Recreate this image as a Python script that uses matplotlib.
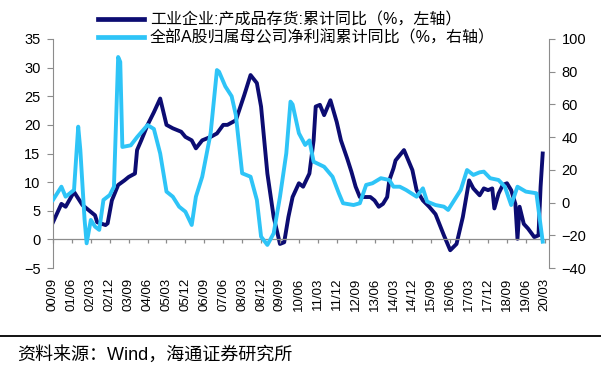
import matplotlib.pyplot as plt
from matplotlib.lines import Line2D

plt.rcParams['font.family'] = ['Liberation Sans', 'Noto Sans CJK SC']

# industrial enterprises: finished goods inventory, YTD yoy (%), left axis
inv_dates = ['2000-09', '2001-01', '2001-03', '2001-07', '2001-11', '2002-02', '2002-05', '2002-06',
             '2002-10', '2002-11', '2003-01', '2003-04', '2003-07', '2003-09', '2003-12', '2004-01',
             '2004-03', '2004-06', '2004-09', '2004-12', '2005-03', '2005-06', '2005-10', '2005-12',
             '2006-03', '2006-05', '2006-08', '2006-12', '2007-03', '2007-06', '2007-08', '2007-12',
             '2008-04', '2008-07', '2008-10', '2008-12', '2009-03', '2009-06', '2009-09', '2009-11',
             '2010-01', '2010-03', '2010-06', '2010-08', '2010-11', '2011-01', '2011-02', '2011-04',
             '2011-06', '2011-09', '2011-12', '2012-02', '2012-05', '2012-07', '2012-09', '2012-11',
             '2013-04', '2013-06', '2013-08', '2013-10', '2013-12', '2014-01', '2014-03', '2014-04',
             '2014-08', '2014-12', '2015-02', '2015-05', '2015-08', '2015-11', '2016-03', '2016-06',
             '2016-09', '2016-12', '2017-03', '2017-05', '2017-08', '2017-10', '2017-12', '2018-02',
             '2018-03', '2018-05', '2018-07', '2018-09', '2018-11', '2019-01', '2019-02', '2019-03',
             '2019-05', '2019-07', '2019-10', '2019-12', '2020-01', '2020-02']
inventory = [3.0, 6.2, 5.7, 8.3, 6.0, 5.1, 4.2, 3.0,
             2.5, 2.8, 6.8, 9.5, 10.3, 10.9, 11.5, 15.6,
             17.3, 20.0, 22.2, 24.6, 20.0, 19.4, 18.8, 17.9,
             17.3, 15.9, 17.3, 17.9, 18.5, 20.0, 20.0, 20.8,
             25.2, 28.7, 27.3, 23.2, 11.5, 3.9, -0.8, -0.5,
             3.9, 7.4, 9.8, 9.2, 11.5, 17.3, 23.2, 23.5,
             21.7, 24.3, 20.5, 17.3, 14.1, 11.8, 9.2, 7.4,
             7.4, 6.8, 5.7, 6.2, 7.4, 10.3, 12.4, 13.8,
             15.6, 12.1, 8.6, 6.8, 5.7, 4.4, 0.7, -1.9,
             -0.8, 3.9, 10.3, 8.9, 7.7, 8.9, 8.6, 8.9,
             5.4, 8.0, 9.5, 9.8, 8.6, 6.2, 0.1, 5.7,
             2.7, 1.9, 0.4, 0.7, 9.2, 15.0]

# all A shares: net profit attributable to parent, YTD yoy (%), right axis
profit_dates = ['2000-09', '2001-01', '2001-03', '2001-07', '2001-09', '2001-10', '2001-12', '2002-01',
                '2002-03', '2002-05', '2002-07', '2002-09', '2002-12', '2003-02', '2003-04', '2003-05',
                '2003-06', '2003-10', '2004-01', '2004-06', '2004-09', '2004-12', '2005-03', '2005-06',
                '2005-09', '2005-12', '2006-03', '2006-05', '2006-08', '2006-12', '2007-03', '2007-04',
                '2007-07', '2007-10', '2007-12', '2008-03', '2008-07', '2008-10', '2008-12', '2009-03',
                '2009-06', '2009-09', '2009-12', '2010-02', '2010-03', '2010-06', '2010-09', '2010-11',
                '2011-01', '2011-06', '2011-10', '2012-01', '2012-03', '2012-08', '2012-11', '2013-02',
                '2013-05', '2013-09', '2014-01', '2014-03', '2014-06', '2014-09', '2015-02', '2015-05',
                '2015-07', '2015-11', '2016-03', '2016-05', '2016-08', '2016-11', '2017-02', '2017-05',
                '2017-08', '2017-10', '2018-01', '2018-05', '2018-08', '2018-11', '2019-02', '2019-06',
                '2019-11', '2020-02']
profit = [1.6, 9.7, 3.6, 7.7, 46.4, 32.2, -10.0, -24.9,
          -10.6, -14.7, -16.7, 1.6, 4.6, 9.7, 89.0, 86.0,
          34.0, 35.0, 40.0, 47.4, 45.0, 30.0, 6.7, 3.6,
          -2.5, -5.6, -13.7, 3.6, 15.8, 42.4, 81.0, 80.0,
          71.0, 65.0, 53.5, 17.9, 15.8, 1.6, -20.8, -25.9,
          -18.8, 3.6, 30.1, 61.7, 60.0, 42.4, 35.2, 38.0,
          25.0, 21.9, 15.8, 5.7, -0.4, -1.5, -0.4, 10.8,
          11.8, 14.9, 13.8, 9.7, 9.7, 7.7, 3.6, 8.7,
          0.6, -1.5, -2.5, -4.5, 1.6, 7.7, 19.9, 16.9,
          18.5, 18.9, 14.9, 13.8, 9.7, -1.5, 9.7, 6.7,
          5.7, -23.9]

tick_labels = ['00/09', '01/06', '02/03', '02/12', '03/09', '04/06', '05/03', '05/12', '06/09',
               '07/06', '08/03', '08/12', '09/09', '10/06', '11/03', '11/12', '12/09', '13/06',
               '14/03', '14/12', '15/09', '16/06', '17/03', '17/12', '18/09', '19/06', '20/03']

label_inv = '工业企业:产成品存货:累计同比（%，左轴）'
label_profit = '全部A股归属母公司净利润累计同比（%，右轴）'
source = '资料来源：Wind，海通证券研究所'


def month_index(s):
    # months since 2000-09
    y, m = s.split('-')
    return (int(y) - 2000) * 12 + int(m) - 9


def tick_index(s):
    y, m = s.split('/')
    return int(y) * 12 + int(m) - 9


dark = '#0c0c72'
light = '#2ec4f7'
grey = '#8c8c8c'

fig = plt.figure(figsize=(6.01, 3.76), dpi=100)
ax = fig.add_axes([53 / 601, 1 - 268 / 376, 496 / 601, 229 / 376])
ax2 = ax.twinx()

ax.plot([month_index(d) for d in inv_dates], inventory, color=dark, lw=2.8, solid_joinstyle='round')
ax2.plot([month_index(d) for d in profit_dates], profit, color=light, lw=2.8, solid_joinstyle='round')

ax.set_xlim(0, 236)
ax.set_ylim(-5, 35)
ax.set_yticks(range(-5, 36, 5))
ax2.set_ylim(-40, 100)
ax2.set_yticks(range(-40, 101, 20))

ticks = [tick_index(t) for t in tick_labels]
ax.set_xticks(ticks)
ax.set_xticklabels(tick_labels, rotation=90, fontsize=9.5)
ax.tick_params(axis='x', length=0, pad=7)

# zero line with small ticks
ax.axhline(0, color=grey, lw=0.9)
ax.plot(ticks, [0] * len(ticks), ls='none', marker=3, ms=3.2, mew=0.9, color=grey, clip_on=False)

for a in (ax, ax2):
    for s in ('top', 'bottom'):
        a.spines[s].set_visible(False)
ax.spines['right'].set_visible(False)
ax2.spines['left'].set_visible(False)
ax.spines['left'].set_color(grey)
ax2.spines['right'].set_color(grey)
ax.tick_params(axis='y', labelsize=10.5, color=grey, length=4, pad=5)
ax2.tick_params(axis='y', labelsize=10.5, color=grey, length=4, pad=5)

handles = [Line2D([], [], color=dark, lw=3.4), Line2D([], [], color=light, lw=3.4)]
fig.legend(handles, [label_inv, label_profit], loc='upper left',
           bbox_to_anchor=(98 / 601, 1 - 12 / 376), frameon=False, fontsize=11.5,
           handlelength=2.9, handletextpad=0.35, labelspacing=0.2, borderpad=0, borderaxespad=0)

fig.add_artist(Line2D([0, 1], [1 - 336 / 376] * 2, color='black', lw=1.3))
fig.text(17 / 601, 1 - 355 / 376, source, fontsize=13, va='center', ha='left')

fig.savefig('out.png', dpi=100)
